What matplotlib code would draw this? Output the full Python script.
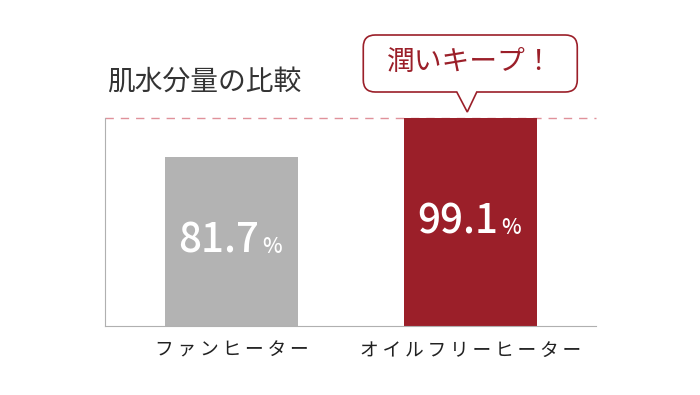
import numpy as np
import matplotlib
matplotlib.use("Agg")
import matplotlib.pyplot as plt
from matplotlib.path import Path
from matplotlib.patches import PathPatch
import matplotlib.transforms as mtransforms

plt.rcParams['font.family'] = ['Noto Sans CJK JP', 'DejaVu Sans']

categories = ['ファンヒーター', 'オイルフリーヒーター']
values = [81.7, 99.1]
title = '肌水分量の比較'
callout = '潤いキープ！'

gray = '#b3b3b3'
red = '#9b1f29'
colors = [gray, red]

fig = plt.figure(figsize=(7, 3.95), dpi=100)
ax = fig.add_axes([0.15, 1 - 326 / 395, 0.701, 208 / 395])

x = np.arange(len(categories))
bottom = 6.3
ax.bar(x, np.array(values) - bottom, bottom=bottom, width=0.556, color=colors, zorder=2)
ax.set_xlim(-0.529, 1.525)
ax.set_ylim(bottom, max(values))

ax.axhline(max(values), color='#e0919a', lw=1, dashes=(6, 5), zorder=1, clip_on=False)

for s in ['top', 'right']:
    ax.spines[s].set_visible(False)
ax.spines['left'].set_color('#b0b0b0')
ax.spines['bottom'].set_color('#b0b0b0')
ax.set_yticks([])
ax.set_xticks(x)
# thin spaces to mimic the wide letter spacing
ax.set_xticklabels(['\u2009'.join(c) for c in categories], fontsize=13.5, color='#222222')
ax.tick_params(axis='x', length=0, pad=10)

# value labels in the middle of the bars
for xi, v in zip(x, values):
    ym = (bottom + v) / 2
    ax.annotate(f'{v:.1f}', (xi, ym), xytext=(20, 0), textcoords='offset points',
                ha='right', va='center', fontsize=29, fontweight='medium', color='white')
    ax.annotate('%', (xi, ym), xytext=(22, -4), textcoords='offset points',
                ha='left', va='center', fontsize=15, fontweight='medium', color='white')

ax.text(0.005, 1.173, title, transform=ax.transAxes, ha='left', va='center',
        fontsize=20, color='#333333')

# speech bubble above the red bar (pixel offsets from bar top)
L, R, B, T, r = -107, 107, 26, 83, 12
tl, tr, tip = -13.5, 6.5, (-3, 6)
verts = [(tr, B), (R - r, B), (R, B), (R, B + r), (R, T - r), (R, T), (R - r, T),
         (L + r, T), (L, T), (L, T - r), (L, B + r), (L, B), (L + r, B),
         (tl, B), tip, (tr, B)]
codes = [Path.MOVETO, Path.LINETO, Path.CURVE3, Path.CURVE3, Path.LINETO, Path.CURVE3, Path.CURVE3,
         Path.LINETO, Path.CURVE3, Path.CURVE3, Path.LINETO, Path.CURVE3, Path.CURVE3,
         Path.LINETO, Path.LINETO, Path.CLOSEPOLY]
anchor = mtransforms.ScaledTranslation(x[1], values[1], ax.transData)
trans = mtransforms.Affine2D() + anchor
bubble = PathPatch(Path(verts, codes), facecolor='white', edgecolor=red, lw=1.2,
                   transform=trans, clip_on=False, zorder=5)
ax.add_patch(bubble)
ax.text(0, 56, callout, transform=trans, ha='center', va='center', fontsize=20,
        color=red, zorder=6)

fig.savefig('out.png', dpi=100)
